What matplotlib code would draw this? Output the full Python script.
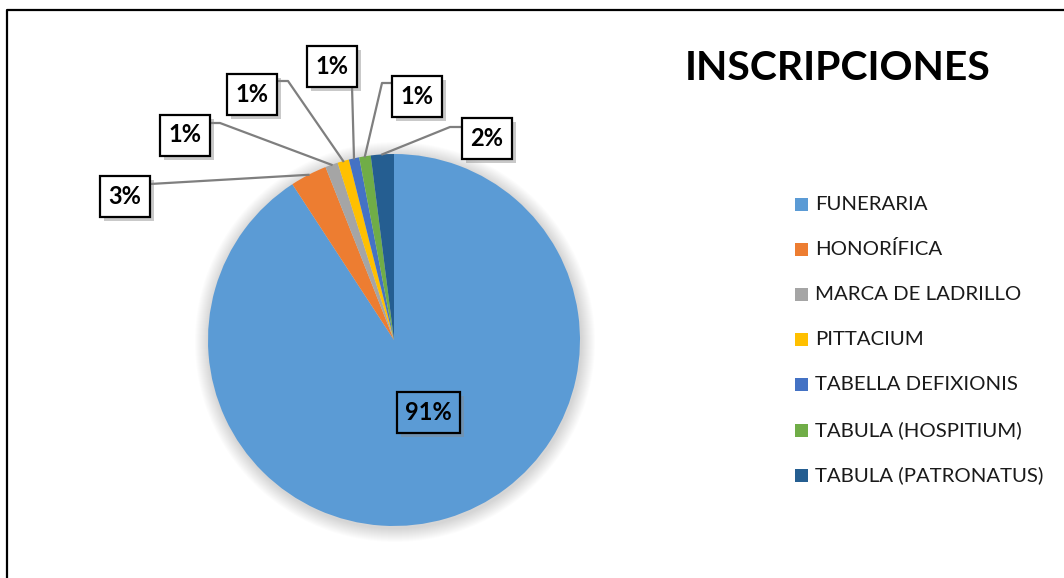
import matplotlib
matplotlib.use("Agg")
import matplotlib.pyplot as plt
import matplotlib.patches as mpatches
import matplotlib.patheffects as pe
import numpy as np

categories = ["FUNERARIA", "HONORÍFICA", "MARCA DE LADRILLO", "PITTACIUM",
              "TABELLA DEFIXIONIS", "TABULA (HOSPITIUM)", "TABULA (PATRONATUS)"]
values = [90.8, 3.2, 1.1, 1.0, 0.9, 1.0, 2.0]
pct_labels = ["91%", "3%", "1%", "1%", "1%", "1%", "2%"]
colors = ["#5B9BD5", "#ED7D31", "#A5A5A5", "#FFC000", "#4472C4", "#70AD47", "#255E91"]
title = "INSCRIPCIONES"

W, H = 1064, 578
FONT = "Lato"

fig = plt.figure(figsize=(W / 100, H / 100), dpi=100)
ax = fig.add_axes([0, 0, 1, 1])
ax.set_xlim(0, W)
ax.set_ylim(0, H)
ax.set_aspect("equal")
ax.axis("off")

def Y(y):
    return H - y

# frame (cropped on right and bottom)
ax.plot([7, 7, W + 5], [-5, Y(10), Y(10)], color="black", lw=1.6, zorder=1)

cx, cy, R = 394, Y(340), 186

# soft shadow around pie
for k in range(14):
    ax.add_patch(mpatches.Circle((cx + 1, cy - 2), R + 14 - k, color="#000000",
                                 alpha=0.012, lw=0, zorder=2))

wedges, _ = ax.pie(values, colors=colors, startangle=90, counterclock=False,
                   center=(cx, cy), radius=R, frame=True,
                   wedgeprops=dict(linewidth=0, zorder=3))
for w in wedges:
    w.set_zorder(3)
ax.set_xlim(0, W)
ax.set_ylim(0, H)
ax.axis("off")

# label layout (image pixel coords): box center, leader start, optional elbow
box_centers = [(428, 412), (125, 196), (185, 135), (252, 94), (332, 66), (417, 96), (487, 138)]
leader_start = [None, (150, 184), (210, 123), (277, 81), (352, 86), (393, 83), (462, 127)]
leader_elbow = [None, None, (220, 123), (288, 81), None, (382, 83), (450, 127)]

bw, bh = 50, 41
for i, w in enumerate(wedges):
    bx, by = box_centers[i]
    width = 63 if i == 0 else bw
    face = colors[0] if i == 0 else "white"
    rect = mpatches.Rectangle((bx - width / 2, Y(by) - bh / 2), width, bh,
                              facecolor=face, edgecolor="black", lw=1.6, zorder=6)
    rect.set_path_effects([pe.SimplePatchShadow(offset=(3, -3), shadow_rgbFace="#888888", alpha=0.45),
                           pe.Normal()])
    ax.add_patch(rect)
    ax.text(bx, Y(by), pct_labels[i], ha="center", va="center", fontsize=17,
            fontweight="bold", family=FONT, color="black", zorder=7)
    if leader_start[i] is not None:
        mid = np.deg2rad((w.theta1 + w.theta2) / 2)
        ex, ey = cx + R * np.cos(mid), cy + R * np.sin(mid)
        pts = [leader_start[i]]
        if leader_elbow[i] is not None:
            pts.append(leader_elbow[i])
        xs = [p[0] for p in pts] + [ex]
        ys = [Y(p[1]) for p in pts] + [ey]
        ax.plot(xs, ys, color="#7F7F7F", lw=1.6, zorder=5)

# title
ax.text(838, Y(69), title, ha="center", va="center", fontsize=29.4,
        fontweight="bold", family=FONT, color="black")

# legend
leg_y0, leg_dy = 204, 45.2
for i, name in enumerate(categories):
    yy = Y(leg_y0 + i * leg_dy)
    ax.add_patch(mpatches.Rectangle((795, yy - 6.5), 13, 13, facecolor=colors[i], lw=0))
    ax.text(815, yy, name, ha="left", va="center", fontsize=14.7, family=FONT, color="#1a1a1a")

fig.savefig("out.png", dpi=100)
